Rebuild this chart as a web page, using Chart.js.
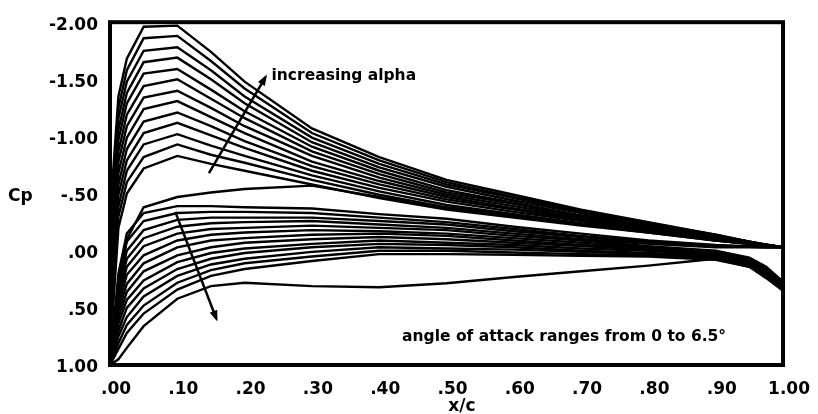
<!DOCTYPE html>
<html>
<head>
<meta charset="utf-8">
<script src="https://cdn.jsdelivr.net/npm/chart.js@4"></script>
<style>
  html, body { margin: 0; padding: 0; background: #fff; }
</style>
</head>
<body>
<canvas id="canvas" width="818" height="414"></canvas>
<script>
// chordwise stations (x/c)
var xStations = [0, 0.0125, 0.025, 0.05, 0.1, 0.15, 0.2, 0.3, 0.4, 0.5, 0.6, 0.7, 0.8, 0.9, 0.95, 0.975, 1.0];

// angles of attack, degrees
var alphas = [0, 0.5, 1, 1.5, 2, 2.5, 3, 3.5, 4, 4.5, 5, 5.5, 6, 6.5];

// upper surface Cp, one row per angle
var upperCp = [
  [ 1.00,  0.30, -0.10, -0.38, -0.47, -0.51, -0.54, -0.57, -0.47, -0.37, -0.30, -0.23, -0.16, -0.09, -0.06, -0.045, -0.03],
  [ 0.90, -0.20, -0.50, -0.72, -0.83, -0.76, -0.70, -0.58, -0.46, -0.36, -0.29, -0.22, -0.16, -0.09, -0.06, -0.045, -0.03],
  [ 0.80, -0.30, -0.60, -0.82, -0.93, -0.84, -0.77, -0.62, -0.49, -0.38, -0.31, -0.23, -0.17, -0.09, -0.06, -0.05, -0.03],
  [ 0.70, -0.39, -0.70, -0.93, -1.02, -0.92, -0.83, -0.66, -0.52, -0.40, -0.32, -0.24, -0.18, -0.10, -0.06, -0.05, -0.03],
  [ 0.60, -0.49, -0.79, -1.03, -1.12, -1.01, -0.90, -0.70, -0.55, -0.43, -0.34, -0.26, -0.18, -0.10, -0.07, -0.05, -0.03],
  [ 0.50, -0.58, -0.89, -1.13, -1.21, -1.09, -0.96, -0.74, -0.58, -0.45, -0.36, -0.27, -0.19, -0.11, -0.07, -0.05, -0.03],
  [ 0.40, -0.68, -0.99, -1.24, -1.31, -1.17, -1.03, -0.78, -0.61, -0.47, -0.37, -0.28, -0.20, -0.11, -0.07, -0.05, -0.03],
  [ 0.30, -0.78, -1.09, -1.34, -1.40, -1.25, -1.09, -0.83, -0.64, -0.49, -0.39, -0.29, -0.21, -0.12, -0.07, -0.05, -0.03],
  [ 0.20, -0.87, -1.19, -1.44, -1.50, -1.33, -1.16, -0.87, -0.67, -0.51, -0.41, -0.30, -0.21, -0.12, -0.07, -0.05, -0.03],
  [ 0.10, -0.97, -1.29, -1.55, -1.59, -1.41, -1.22, -0.91, -0.70, -0.53, -0.42, -0.31, -0.22, -0.12, -0.07, -0.05, -0.03],
  [ 0.00, -1.06, -1.38, -1.65, -1.69, -1.50, -1.29, -0.95, -0.73, -0.56, -0.44, -0.33, -0.23, -0.13, -0.08, -0.05, -0.03],
  [-0.10, -1.16, -1.48, -1.75, -1.78, -1.58, -1.35, -0.99, -0.76, -0.58, -0.46, -0.34, -0.24, -0.13, -0.08, -0.05, -0.03],
  [-0.20, -1.25, -1.58, -1.86, -1.88, -1.66, -1.42, -1.03, -0.79, -0.60, -0.47, -0.35, -0.24, -0.14, -0.08, -0.05, -0.03],
  [-0.30, -1.35, -1.68, -1.96, -1.97, -1.74, -1.48, -1.07, -0.82, -0.62, -0.49, -0.36, -0.25, -0.14, -0.08, -0.055, -0.03]
];

// lower surface Cp, one row per angle
var lowerCp = [
  [1.00, 0.20, -0.15, -0.33, -0.39, -0.39, -0.38, -0.37, -0.32, -0.28, -0.21, -0.15, -0.09, -0.05, -0.04, -0.035, -0.03],
  [1.00, 0.26, -0.08, -0.26, -0.33, -0.34, -0.34, -0.33, -0.29, -0.25, -0.19, -0.13, -0.08, -0.04, -0.035, -0.03, -0.03],
  [1.00, 0.31,  0.00, -0.18, -0.27, -0.29, -0.29, -0.29, -0.26, -0.23, -0.17, -0.12, -0.07, -0.04, -0.035, -0.03, -0.03],
  [1.00, 0.37,  0.07, -0.11, -0.21, -0.24, -0.25, -0.26, -0.23, -0.20, -0.15, -0.10, -0.06, -0.03, -0.03, -0.03, -0.03],
  [1.00, 0.42,  0.14, -0.04, -0.15, -0.19, -0.20, -0.22, -0.20, -0.18, -0.13, -0.09, -0.04, 0.00, 0.06, 0.14, 0.27],
  [1.00, 0.48,  0.21,  0.04, -0.09, -0.14, -0.16, -0.18, -0.17, -0.15, -0.11, -0.07, -0.03, 0.01, 0.07, 0.15, 0.28],
  [1.00, 0.53,  0.29,  0.11, -0.03, -0.09, -0.11, -0.14, -0.15, -0.13, -0.09, -0.05, -0.02, 0.02, 0.08, 0.16, 0.29],
  [1.00, 0.59,  0.36,  0.18,  0.04, -0.03, -0.07, -0.10, -0.12, -0.10, -0.07, -0.04, -0.01, 0.03, 0.09, 0.17, 0.30],
  [1.00, 0.64,  0.43,  0.26,  0.10,  0.02, -0.02, -0.06, -0.09, -0.07, -0.05, -0.02, 0.00, 0.04, 0.10, 0.18, 0.31],
  [1.00, 0.70,  0.50,  0.33,  0.16,  0.07,  0.02, -0.03, -0.06, -0.05, -0.03, 0.00, 0.02, 0.05, 0.11, 0.19, 0.32],
  [1.00, 0.75,  0.58,  0.40,  0.22,  0.12,  0.07,  0.01, -0.03, -0.02, -0.01, 0.01, 0.03, 0.06, 0.12, 0.20, 0.33],
  [1.00, 0.81,  0.65,  0.48,  0.28,  0.17,  0.11,  0.05,  0.00,  0.00, 0.015, 0.03, 0.04, 0.07, 0.13, 0.21, 0.33],
  [1.00, 0.86,  0.72,  0.55,  0.34,  0.22,  0.16,  0.09,  0.03,  0.03, 0.035, 0.045, 0.05, 0.08, 0.14, 0.22, 0.34],
  [1.00, 0.95,  0.85,  0.66,  0.42,  0.31,  0.28,  0.31,  0.32,  0.285, 0.23, 0.18, 0.13, 0.07, 0.14, 0.24, 0.35]
];

var xTickValues = [0, 0.1, 0.2, 0.3, 0.4, 0.5, 0.6, 0.7, 0.8, 0.9, 1.0];
var xTickLabels = ['.00', '.10', '.20', '.30', '.40', '.50', '.60', '.70', '.80', '.90', '1.00'];
var yTickValues = [-2, -1.5, -1, -0.5, 0, 0.5, 1];
var yTickLabels = ['-2.00', '-1.50', '-1.00', '-.50', '.00', '.50', '1.00'];

Chart.defaults.font.family = "'DejaVu Sans', sans-serif";
Chart.defaults.font.size = 17;
Chart.defaults.font.weight = 'bold';
Chart.defaults.color = '#000';

function toPoints(row) {
  return row.map(function(cp, i) { return { x: xStations[i], y: cp }; });
}

// look up the label for a tick value
function labelFor(values, labels, v) {
  for (var i = 0; i < values.length; i++) {
    if (Math.abs(values[i] - v) < 1e-6) return labels[i];
  }
  return '';
}

var datasets = [];
alphas.forEach(function(a, i) {
  datasets.push({ label: 'upper ' + a, data: toPoints(upperCp[i]) });
  datasets.push({ label: 'lower ' + a, data: toPoints(lowerCp[i]) });
});
datasets.forEach(function(d) {
  d.borderColor = '#000';
  d.borderWidth = 2.4;
  d.pointRadius = 0;
  d.tension = 0;
  d.fill = false;
});

// draws the box, arrows and notes
function arrow(c, x1, y1, x2, y2) {
  var ang = Math.atan2(y2 - y1, x2 - x1);
  c.beginPath();
  c.moveTo(x1, y1);
  c.lineTo(x2, y2);
  c.stroke();
  c.beginPath();
  c.moveTo(x2 + 3 * Math.cos(ang), y2 + 3 * Math.sin(ang));
  c.lineTo(x2 - 8 * Math.cos(ang) + 4 * Math.sin(ang), y2 - 8 * Math.sin(ang) - 4 * Math.cos(ang));
  c.lineTo(x2 - 8 * Math.cos(ang) - 4 * Math.sin(ang), y2 - 8 * Math.sin(ang) + 4 * Math.cos(ang));
  c.closePath();
  c.fill();
}

var notesPlugin = {
  id: 'notes',
  afterDatasetsDraw: function(chart) {
    var c = chart.ctx, a = chart.chartArea;
    var xs = chart.scales.x, ys = chart.scales.y;
    c.save();
    c.strokeStyle = '#000';
    c.fillStyle = '#000';
    c.lineWidth = 4;
    c.strokeRect(a.left, a.top, a.right - a.left, a.bottom - a.top);

    c.lineWidth = 2.5;
    arrow(c, xs.getPixelForValue(0.147), ys.getPixelForValue(-0.68),
             xs.getPixelForValue(0.231), ys.getPixelForValue(-1.52));
    arrow(c, xs.getPixelForValue(0.097), ys.getPixelForValue(-0.34),
             xs.getPixelForValue(0.158), ys.getPixelForValue(0.595));

    c.font = "bold 15.5px 'DejaVu Sans'";
    c.textBaseline = 'alphabetic';
    c.textAlign = 'left';
    c.fillText('increasing alpha', xs.getPixelForValue(0.24), ys.getPixelForValue(-1.49));
    c.fillText('angle of attack ranges from 0 to 6.5°', xs.getPixelForValue(0.434), ys.getPixelForValue(0.79));

    c.font = "bold 17px 'DejaVu Sans'";
    c.fillText('Cp', 8, 201);
    c.textAlign = 'center';
    c.fillText('x/c', xs.getPixelForValue(0.523), 411);
    c.restore();
  }
};

var chart = new Chart(document.getElementById('canvas'), {
  type: 'line',
  data: { datasets: datasets },
  options: {
    responsive: false,
    animation: false,
    layout: { padding: { left: 10, right: 29, top: 17, bottom: 0 } },
    plugins: {
      legend: { display: false },
      tooltip: { enabled: false }
    },
    scales: {
      x: {
        type: 'linear',
        min: 0,
        max: 1,
        grid: { display: false, drawTicks: false },
        border: { display: false },
        ticks: {
          stepSize: 0.1,
          padding: 14,
          labelOffset: 6,
          maxRotation: 0,
          callback: function(v) { return labelFor(xTickValues, xTickLabels, v); }
        },
        afterFit: function(s) { s.height = 49; }
      },
      y: {
        type: 'linear',
        min: -2,
        max: 1,
        reverse: true,
        grid: { display: false, drawTicks: false },
        border: { display: false },
        ticks: {
          stepSize: 0.5,
          padding: 12,
          labelOffset: 3,
          callback: function(v) { return labelFor(yTickValues, yTickLabels, v); }
        },
        afterFit: function(s) { s.width = 100; }
      }
    }
  },
  plugins: [notesPlugin]
});
</script>
</body>
</html>
